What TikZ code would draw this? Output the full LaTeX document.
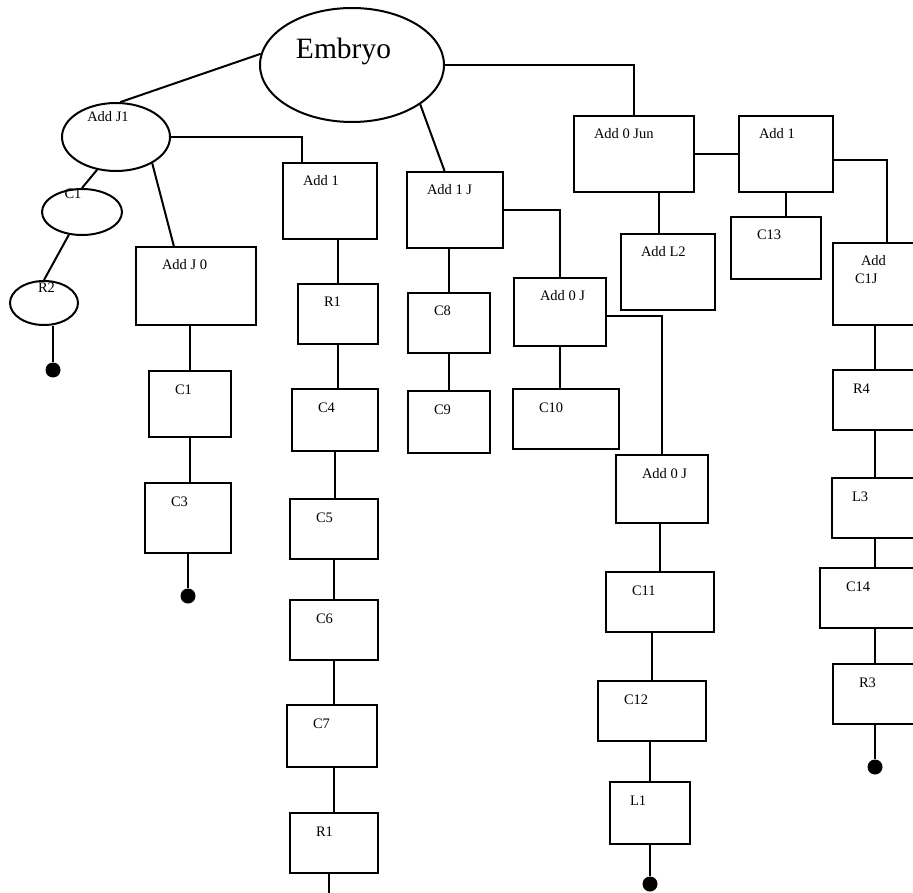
\documentclass[tikz,border=0pt]{standalone}
\usepackage{fontspec}
\setmainfont{Liberation Serif}
\usetikzlibrary{shapes.geometric}

\newcommand{\txt}{\fontsize{14.5}{17}\selectfont}

\begin{document}
\begin{tikzpicture}[x=1pt, y=-1pt, line width=2pt,
    tbox/.style={draw, rectangle, inner sep=0pt},
    oval/.style={draw, ellipse, inner sep=0pt},
    tagtext/.style={anchor=base west, inner sep=0pt, xshift=26pt, yshift=-24pt, font=\txt},
    tag/.style={label={[tagtext]north west:#1}},
    wtag/.style={label={[tagtext, xshift=-6pt]north west:#1}},
    otext/.style={anchor=base, inner sep=0pt, font=\txt},
    enddot/.style={circle, fill=black, inner sep=0pt, minimum size=15pt}]
    \useasboundingbox (0,0) rectangle (913,893);

    % root
    \node[oval, minimum width=184pt, minimum height=114pt, label={[otext, font=\fontsize{29.5}{34}\selectfont, xshift=-8.5pt, yshift=-52pt]north:Embryo}] (embryo) at (352,65) {};

    % left branch
    \node[oval, minimum width=108pt, minimum height=68pt, label={[otext, xshift=-8pt, yshift=-20pt]north:Add J1}] (addj1) at (116,137) {};
    \node[oval, minimum width=80pt, minimum height=46pt, label={[otext, xshift=-9pt, yshift=-11pt]north:C1}] (c1e) at (82,212) {};
    \node[oval, minimum width=68pt, minimum height=44pt, label={[otext, xshift=2.5pt, yshift=-13pt]north:R2}] (r2) at (44,303) {};
    \node[enddot] (end1) at (53,370) {};

    \node[tbox, minimum width=120pt, minimum height=78pt, tag=Add J 0] (addj0) at (196,286) {};
    \node[tbox, minimum width=82pt, minimum height=66pt, tag=C1] (c1b) at (190,404) {};
    \node[tbox, minimum width=86pt, minimum height=70pt, tag=C3] (c3) at (188,518) {};
    \node[enddot] (end2) at (188,596) {};

    \node[tbox, minimum width=94pt, minimum height=76pt, wtag=Add 1] (add1) at (330,201) {};
    \node[tbox, minimum width=80pt, minimum height=60pt, tag=R1] (r1) at (338,314) {};
    \node[tbox, minimum width=86pt, minimum height=62pt, tag=C4] (c4) at (335,420) {};
    \node[tbox, minimum width=88pt, minimum height=60pt, tag=C5] (c5) at (334,529) {};
    \node[tbox, minimum width=88pt, minimum height=60pt, tag=C6] (c6) at (334,630) {};
    \node[tbox, minimum width=90pt, minimum height=62pt, tag=C7] (c7) at (332,736) {};
    \node[tbox, minimum width=88pt, minimum height=60pt, tag=R1] (r1b) at (334,843) {};
    \coordinate (r1bend) at (329,905);

    % middle branch
    \node[tbox, minimum width=96pt, minimum height=76pt, wtag=Add 1 J] (add1j) at (455,210) {};
    \node[tbox, minimum width=82pt, minimum height=60pt, tag=C8] (c8) at (449,323) {};
    \node[tbox, minimum width=82pt, minimum height=62pt, tag=C9] (c9) at (449,422) {};
    \node[tbox, minimum width=92pt, minimum height=68pt, tag=Add 0 J] (add0j) at (560,312) {};
    \node[tbox, minimum width=106pt, minimum height=60pt, tag=C10] (c10) at (566,419) {};
    \node[tbox, minimum width=92pt, minimum height=68pt, tag=Add 0 J] (add0jb) at (662,489) {};
    \node[tbox, minimum width=108pt, minimum height=60pt, tag=C11] (c11) at (660,602) {};
    \node[tbox, minimum width=108pt, minimum height=60pt, tag=C12] (c12) at (652,711) {};
    \node[tbox, minimum width=80pt, minimum height=62pt, wtag=L1] (l1) at (650,813) {};
    \node[enddot] (end3) at (650,884) {};

    % right branch
    \node[tbox, minimum width=120pt, minimum height=76pt, wtag=Add 0 Jun] (add0jun) at (634,154) {};
    \node[tbox, minimum width=94pt, minimum height=76pt, wtag=Add L2] (addl2) at (668,272) {};
    \node[tbox, minimum width=94pt, minimum height=76pt, wtag=Add 1] (add1r) at (786,154) {};
    \node[tbox, minimum width=90pt, minimum height=62pt, tag=C13] (c13) at (776,248) {};
    \node[tbox, minimum width=108pt, minimum height=82pt, label={[tagtext, xshift=2pt]north west:Add}, label={[tagtext, xshift=-4pt, yshift=-18pt]north west:C1J}] (addc1j) at (887,284) {};
    \node[tbox, minimum width=84pt, minimum height=60pt, wtag=R4] (r4) at (875,400) {};
    \node[tbox, minimum width=86pt, minimum height=60pt, wtag=L3] (l3) at (875,508) {};
    \node[tbox, minimum width=110pt, minimum height=60pt, tag=C14] (c14) at (875,598) {};
    \node[tbox, minimum width=84pt, minimum height=60pt, tag=R3] (r3) at (875,694) {};
    \node[enddot] (end4) at (875,767) {};

    \draw (embryo.173) -- (addj1.83);
    \draw (embryo.-30) -- (add1j.105);
    \draw (embryo.east) -| (add0jun);

    \draw (addj1.east) -| (add1.126);
    \draw (addj1.240) -- (c1e.north);
    \draw (c1e.240) -- (r2.north);
    \draw (end1 |- r2.south) -- (end1);
    \draw (addj1.-36) -- (addj0.119);
    \draw (c1b.north |- addj0.south) -- (c1b.north);
    \draw (c1b.south) -- (c1b.south |- c3.north);
    \draw (end2 |- c3.south) -- (end2);

    \draw (r1.north |- add1.south) -- (r1.north);
    \draw (r1.south) -- (r1.south |- c4.north);
    \draw (c4.south) -- (c4.south |- c5.north);
    \draw (c5.south) -- (c5.south |- c6.north);
    \draw (c6.south) -- (c6.south |- c7.north);
    \draw (r1b.north |- c7.south) -- (r1b.north);
    \draw (r1bend |- r1b.south) -- (r1bend);

    \draw (c8.north |- add1j.south) -- (c8.north);
    \draw (c8.south) -- (c9.north);
    \draw (add1j.east) -| (add0j.north);
    \draw (add0j.south) -- (add0j.south |- c10.north);
    \draw (add0j.-5) -| (add0jb.north);
    \draw (c11.north |- add0jb.south) -- (c11.north);
    \draw (c12.north |- c11.south) -- (c12.north);
    \draw (l1.north |- c12.south) -- (l1.north);
    \draw (end3 |- l1.south) -- (end3);

    \draw (add0jun.-57) -- (add0jun.-57 |- addl2.north);
    \draw (add0jun.east) -- (add1r.west);
    \draw (add1r.south) -- (add1r.south |- c13.north);
    \draw (add1r.-7) -| (addc1j.north);
    \draw (r4.north |- addc1j.south) -- (r4.north);
    \draw (r4.south) -- (l3.north);
    \draw (l3.south) -- (c14.north);
    \draw (c14.south) -- (r3.north);
    \draw (r3.south) -- (end4);
\end{tikzpicture}
\end{document}
